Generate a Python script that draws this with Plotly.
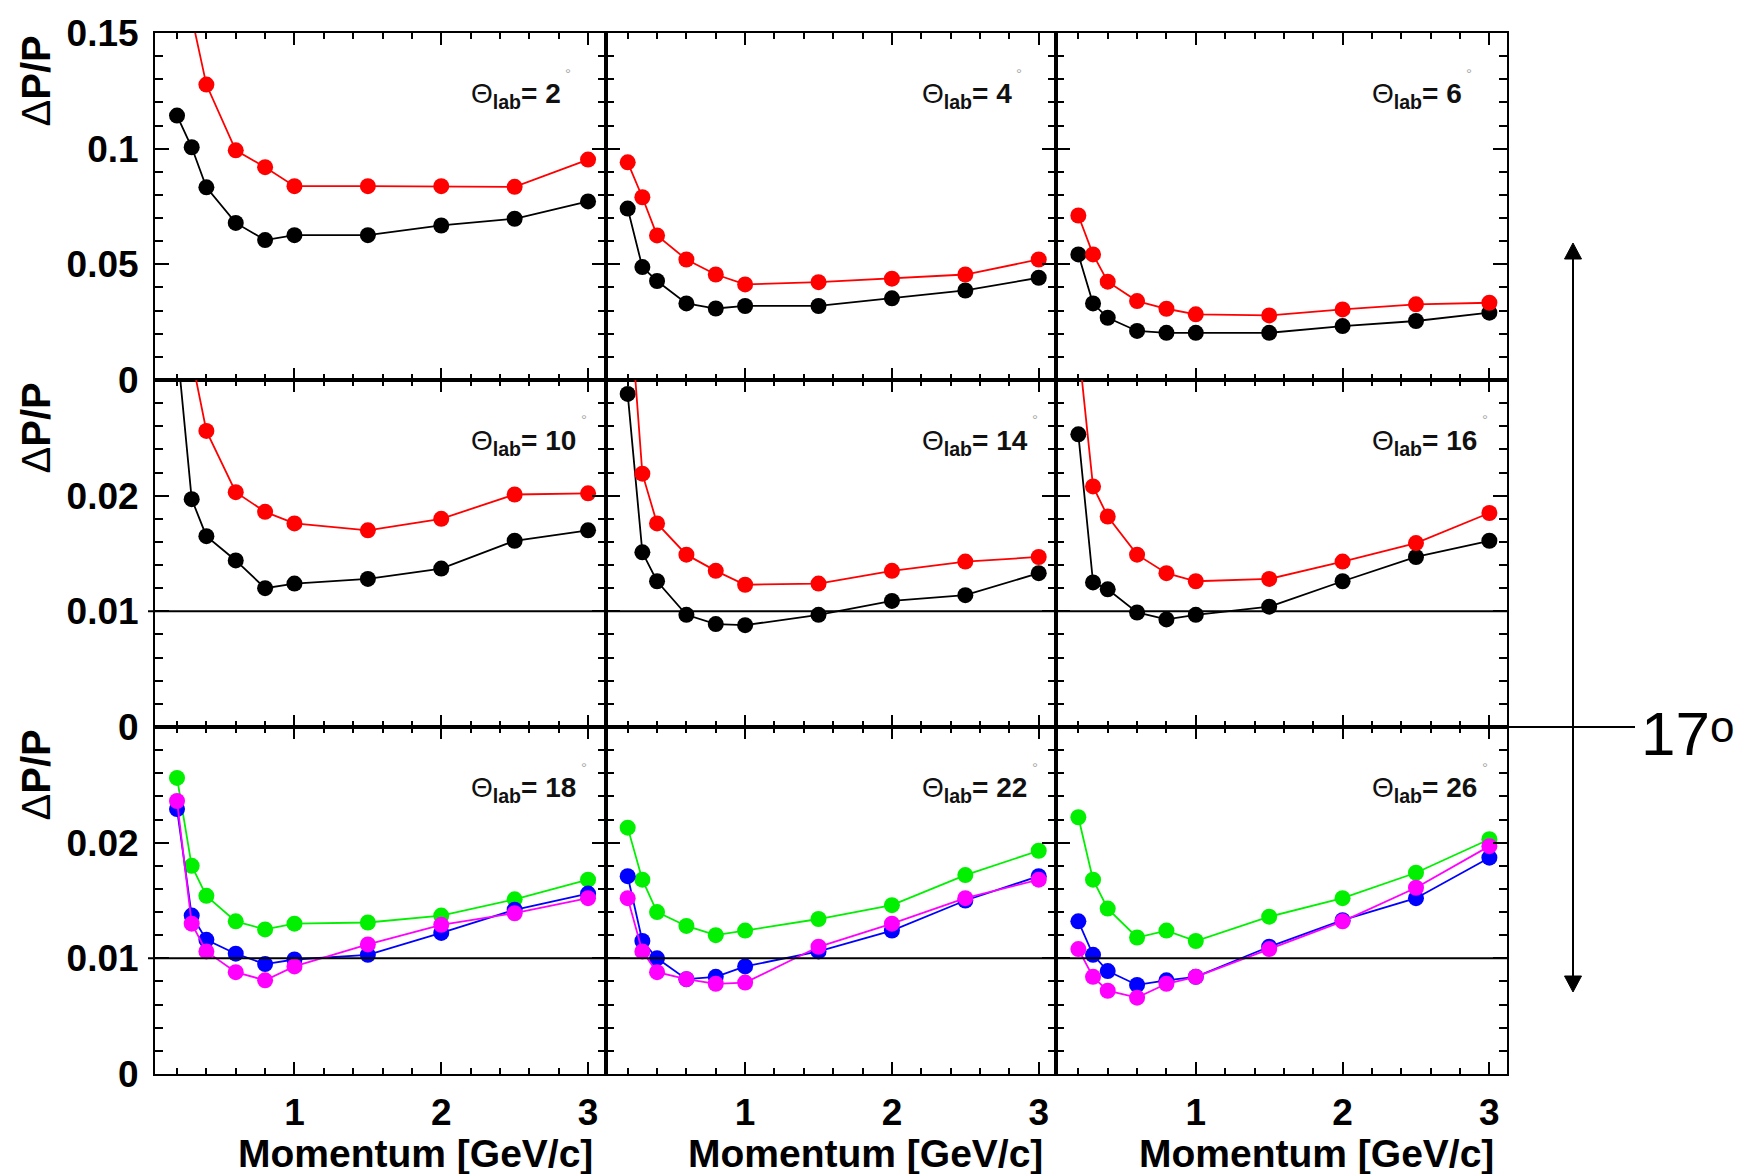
import plotly.graph_objects as go
from plotly.subplots import make_subplots

# ---------------- data ----------------
momentum = [0.2, 0.3, 0.4, 0.6, 0.8, 1.0, 1.5, 2.0, 2.5, 3.0]
angles = [2, 4, 6, 10, 14, 16, 18, 22, 26]

# theta = 2, 4, 6 (row 1)
black_2 = [0.1143, 0.1006, 0.0833, 0.0679, 0.0605, 0.0626, 0.0626, 0.0668, 0.0697, 0.0772]
red_2 = [0.21, 0.157, 0.1277, 0.0993, 0.0920, 0.0838, 0.0838, 0.0838, 0.0835, 0.0953]
black_4 = [0.0741, 0.0488, 0.0428, 0.0331, 0.0309, 0.0320, 0.0320, 0.0353, 0.0387, 0.0442]
red_4 = [0.0941, 0.0790, 0.0625, 0.0521, 0.0456, 0.0413, 0.0423, 0.0438, 0.0456, 0.0521]
black_6 = [0.0543, 0.0331, 0.0269, 0.0212, 0.0204, 0.0204, 0.0204, 0.0233, 0.0255, 0.0291]
red_6 = [0.0711, 0.0543, 0.0425, 0.0341, 0.0308, 0.0284, 0.0279, 0.0305, 0.0327, 0.0334]

# theta = 10, 14, 16 (row 2)
black_10 = [0.033, 0.0197, 0.0165, 0.0144, 0.0120, 0.0124, 0.0128, 0.0137, 0.0161, 0.0170]
red_10 = [0.045, 0.0319, 0.0256, 0.0203, 0.0186, 0.0176, 0.0170, 0.0180, 0.0201, 0.0202]
black_14 = [0.0288, 0.0151, 0.0126, 0.0097, 0.0089, 0.0088, 0.0097, 0.0109, 0.0114, 0.0133]
red_14 = [0.039, 0.0219, 0.0176, 0.0149, 0.0135, 0.0123, 0.0124, 0.0135, 0.0143, 0.0147]
black_16 = [0.0253, 0.0125, 0.0119, 0.0099, 0.0093, 0.0097, 0.0104, 0.0126, 0.0147, 0.0161]
red_16 = [0.033, 0.0208, 0.0182, 0.0149, 0.0133, 0.0126, 0.0128, 0.0143, 0.0159, 0.0185]

# theta = 18, 22, 26 (row 3)
green_18 = [0.0256, 0.0180, 0.0154, 0.0132, 0.0125, 0.0130, 0.0131, 0.0137, 0.0151, 0.0168]
blue_18 = [0.0229, 0.0137, 0.0116, 0.0104, 0.0095, 0.0099, 0.0103, 0.0122, 0.0142, 0.0156]
magenta_18 = [0.0236, 0.0130, 0.0106, 0.0088, 0.0081, 0.0093, 0.0112, 0.0129, 0.0139, 0.0152]
green_22 = [0.0213, 0.0168, 0.0140, 0.0128, 0.0120, 0.0124, 0.0134, 0.0146, 0.0172, 0.0193]
blue_22 = [0.0171, 0.0115, 0.0100, 0.0082, 0.0084, 0.0093, 0.0106, 0.0124, 0.0150, 0.0171]
magenta_22 = [0.0152, 0.0106, 0.0088, 0.0082, 0.0078, 0.0079, 0.0110, 0.0130, 0.0152, 0.0168]
green_26 = [0.0222, 0.0168, 0.0143, 0.0118, 0.0124, 0.0115, 0.0136, 0.0152, 0.0174, 0.0203]
blue_26 = [0.0132, 0.0103, 0.0089, 0.0077, 0.0081, 0.0084, 0.0110, 0.0133, 0.0152, 0.0187]
magenta_26 = [0.0108, 0.0084, 0.0072, 0.0066, 0.0078, 0.0084, 0.0108, 0.0132, 0.0161, 0.0197]

row1_ticks = [0, 0.05, 0.1, 0.15]
row1_labels = ["0", "0.05", "0.1", "0.15"]
row23_ticks = [0, 0.01, 0.02, 0.03]
row23_labels = ["0", "0.01", "0.02", ""]
x_label = "Momentum [GeV/c]"
y_label = "Δ<b>P/P</b>"
limit_label = "17"

COL = {"black": "#000000", "red": "#ff0000", "green": "#00f000",
       "blue": "#0000ff", "magenta": "#ff00ff"}

panels = [
    [("black", black_2), ("red", red_2)],
    [("black", black_4), ("red", red_4)],
    [("black", black_6), ("red", red_6)],
    [("black", black_10), ("red", red_10)],
    [("black", black_14), ("red", red_14)],
    [("black", black_16), ("red", red_16)],
    [("green", green_18), ("blue", blue_18), ("magenta", magenta_18)],
    [("green", green_22), ("blue", blue_22), ("magenta", magenta_22)],
    [("green", green_26), ("blue", blue_26), ("magenta", magenta_26)],
]

# ---------------- layout geometry (pixels) ----------------
W, H = 1742, 1174
L, R, T, B = 155, 1507, 33, 1074
PW, PH = (R - L) / 3, (B - T) / 3


def pxx(x):
    return (x - L) / (R - L)


def pyy(y):
    return (B - y) / (B - T)


FONT = "Liberation Sans, Arial, sans-serif"
TICKFONT = dict(family=FONT, size=37, color="black", weight="bold")

fig = make_subplots(rows=3, cols=3, horizontal_spacing=0, vertical_spacing=0)

for i, series in enumerate(panels):
    r, c = i // 3 + 1, i % 3 + 1
    for name, vals in series:
        fig.add_trace(go.Scatter(
            x=momentum, y=vals, mode="lines+markers",
            line=dict(color=COL[name], width=1.8),
            marker=dict(color=COL[name], size=16, symbol="circle"),
            showlegend=False, cliponaxis=True), row=r, col=c)

for i in range(9):
    r, c = i // 3 + 1, i % 3 + 1
    fig.update_xaxes(row=r, col=c, range=[0.05, 3.12], tickmode="linear", tick0=0, dtick=1,
                     ticks="inside", ticklen=12, tickwidth=2, tickcolor="black",
                     showline=True, linewidth=2, linecolor="black", mirror="allticks",
                     showgrid=False, zeroline=False,
                     minor=dict(ticks="inside", ticklen=6, tickwidth=2, tickcolor="black",
                                dtick=0.2, tick0=0, showgrid=False),
                     showticklabels=(r == 3), ticklabelstandoff=5,
                     tickfont=TICKFONT)
    if r == 1:
        fig.update_yaxes(row=r, col=c, range=[0, 0.15], tickmode="array",
                         tickvals=row1_ticks, ticktext=row1_labels,
                         minor=dict(ticks="inside", ticklen=8, tickwidth=2, tickcolor="black",
                                    dtick=0.01, tick0=0, showgrid=False))
    else:
        fig.update_yaxes(row=r, col=c, range=[0, 0.03], tickmode="array",
                         tickvals=row23_ticks, ticktext=row23_labels,
                         minor=dict(ticks="inside", ticklen=8, tickwidth=2, tickcolor="black",
                                    dtick=0.002, tick0=0, showgrid=False))
    fig.update_yaxes(row=r, col=c, ticks="inside", ticklen=14, tickwidth=2, tickcolor="black",
                     showline=True, linewidth=2, linecolor="black", mirror="allticks",
                     showgrid=False, zeroline=False, showticklabels=(c == 1),
                     ticklabelstandoff=7, tickfont=TICKFONT)

annotations = []
shapes = []

for i, th in enumerate(angles):
    r, c = i // 3 + 1, i % 3 + 1
    col_left = L + (c - 1) * PW
    row_top = T + (r - 1) * PH
    annotations.append(dict(
        x=pxx(col_left + 314), y=pyy(row_top + 62), xref="paper", yref="paper",
        xanchor="left", yanchor="middle", showarrow=False,
        text="Θ<sub><b>lab</b></sub><b>= %d</b>" % th,
        font=dict(family=FONT, size=28, color="#111111")))
    off = 99 if th < 10 else 115
    annotations.append(dict(
        x=pxx(col_left + 314 + off), y=pyy(row_top + 40), xref="paper", yref="paper",
        xanchor="center", yanchor="middle", showarrow=False, text="°",
        font=dict(family=FONT, size=15, color="#a8a8a8")))

for r in range(3):
    row_top = T + r * PH
    annotations.append(dict(
        x=pxx(35), y=pyy(row_top + 1), xref="paper", yref="paper",
        xanchor="center", yanchor="top", showarrow=False, textangle=-90,
        text=y_label, font=dict(family=FONT, size=40, color="black")))

for c in range(3):
    col_right = L + (c + 1) * PW
    annotations.append(dict(
        x=pxx(col_right - 11), y=pyy(1153), xref="paper", yref="paper",
        xanchor="right", yanchor="middle", showarrow=False, text=x_label,
        font=dict(family=FONT, size=39, color="black", weight="bold")))

annotations.append(dict(
    x=pxx(1639), y=pyy(733), xref="paper", yref="paper", xanchor="left", yanchor="middle",
    showarrow=False, text=limit_label, font=dict(family=FONT, size=62, color="black")))
annotations.append(dict(
    x=pxx(1722), y=pyy(726), xref="paper", yref="paper", xanchor="center", yanchor="middle",
    showarrow=False, text="o", font=dict(family=FONT, size=44, color="black")))

# 0.01 reference lines on rows 2 and 3
for yref in ("y4", "y7"):
    shapes.append(dict(type="line", xref="paper", yref=yref, x0=pxx(148), x1=1,
                       y0=0.01, y1=0.01, line=dict(color="black", width=2)))

# 17 degree marker line
shapes.append(dict(type="line", xref="paper", yref="paper", x0=1, x1=pxx(1635),
                   y0=pyy(T + 2 * PH), y1=pyy(T + 2 * PH), line=dict(color="black", width=2)))

# double arrow
ax = 1573
shapes.append(dict(type="line", xref="paper", yref="paper", x0=pxx(ax), x1=pxx(ax),
                   y0=pyy(256), y1=pyy(979), line=dict(color="black", width=2)))


def tri(tipy, basey):
    return "M %f,%f L %f,%f L %f,%f Z" % (pxx(ax), pyy(tipy), pxx(ax - 8.5), pyy(basey),
                                          pxx(ax + 8.5), pyy(basey))


shapes.append(dict(type="path", xref="paper", yref="paper", path=tri(243, 259),
                   fillcolor="black", line=dict(color="black", width=1)))
shapes.append(dict(type="path", xref="paper", yref="paper", path=tri(992, 976),
                   fillcolor="black", line=dict(color="black", width=1)))

fig.update_layout(width=W, height=H, margin=dict(l=L, r=W - R, t=T, b=H - B),
                  plot_bgcolor="white", paper_bgcolor="white", showlegend=False,
                  annotations=annotations, shapes=shapes)

fig.write_html("out.html")
